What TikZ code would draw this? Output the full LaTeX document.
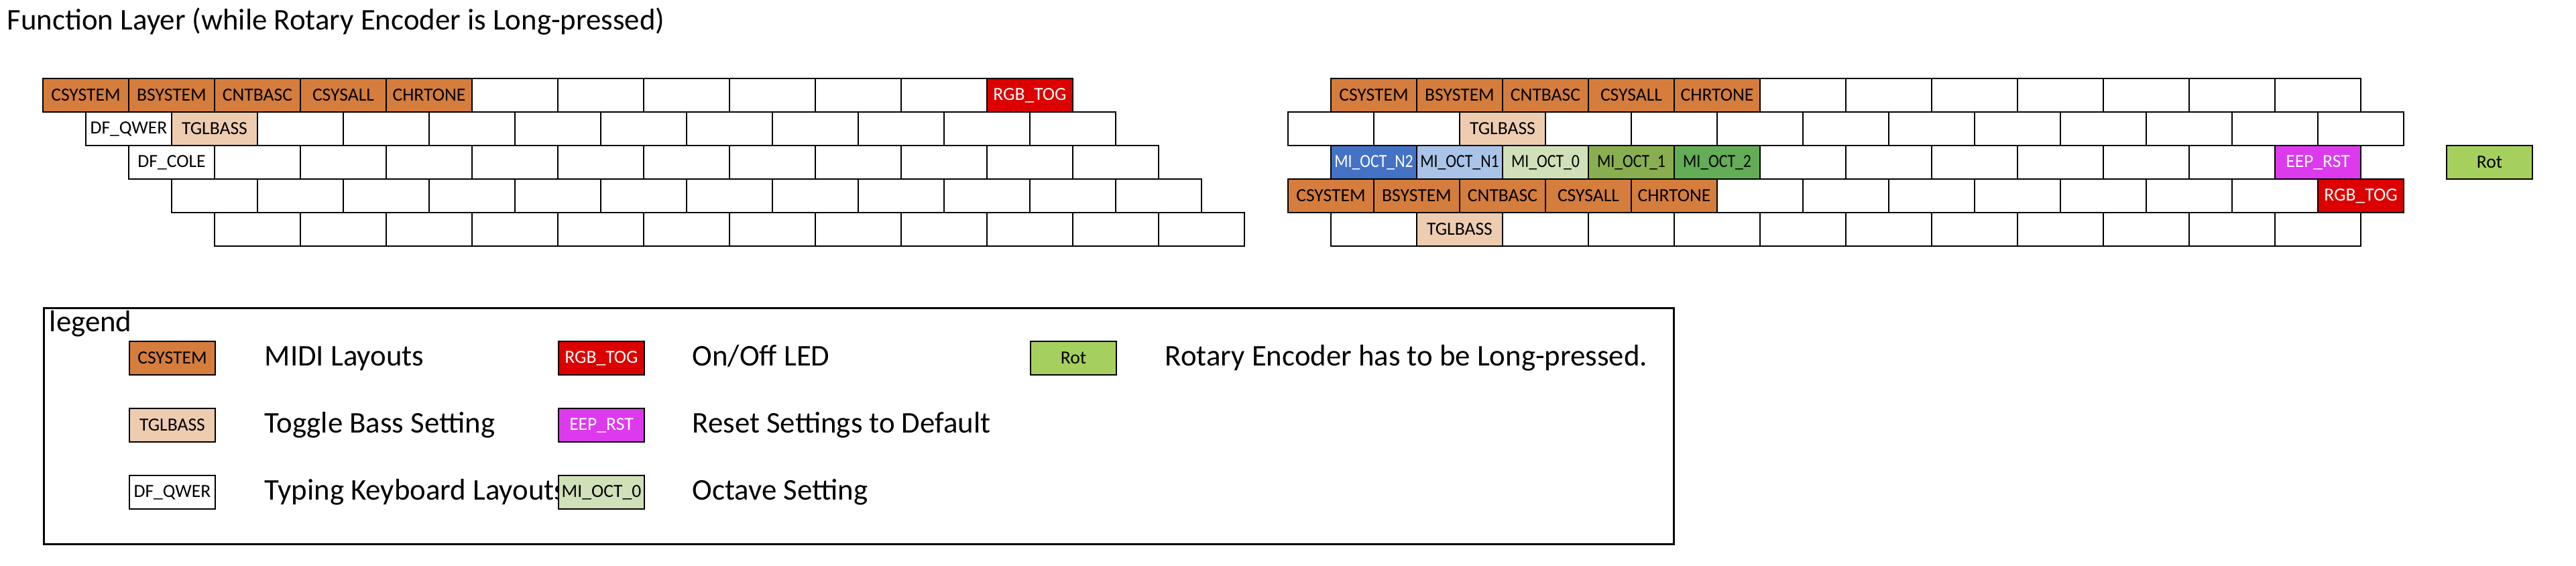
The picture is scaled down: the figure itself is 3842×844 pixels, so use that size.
\documentclass[tikz,border=0pt]{standalone}
\usepackage{fontspec}
\setmainfont{Carlito}
\definecolor{cOr}{HTML}{D57D3C}
\definecolor{cTg}{HTML}{EDCCB0}
\definecolor{cRd}{HTML}{DC0000}
\definecolor{cMg}{HTML}{DD3AEE}
\definecolor{cBa}{HTML}{4472C4}
\definecolor{cBb}{HTML}{A9C4E8}
\definecolor{cGa}{HTML}{D0E0B8}
\definecolor{cGb}{HTML}{89AE50}
\definecolor{cGc}{HTML}{62AD55}
\definecolor{cRot}{HTML}{A6D05E}
\newcommand\kbrow[4]{%
  \foreach \ks/\kl [count=\ki from 0] in {#4}{%
    \node[key,\ks] (#1-\ki) at ({#2+64+128*\ki},{#3+25}) {\kl};}}
\newcommand\nar[1]{\scalebox{0.86}[1]{#1}}
\begin{document}
\begin{tikzpicture}[x=0.25pt,y=-0.25pt,
  key/.style={draw=black, line width=0.375pt, minimum width=32pt, minimum height=12.5pt,
    inner sep=0pt, outer sep=0pt, font=\fontsize{6.9}{8}\selectfont, text=black},
  bl/.style={fill=white},
  mo/.style={fill=cOr},
  tg/.style={fill=cTg},
  rd/.style={fill=cRd, text=white},
  mg/.style={fill=cMg, text=white},
  ba/.style={fill=cBa, text=white},
  bb/.style={fill=cBb},
  ga/.style={fill=cGa},
  gb/.style={fill=cGb},
  gc/.style={fill=cGc},
  rt/.style={fill=cRot, line width=0.5pt},
  rowline/.style={draw=black, line width=0.5pt},
  sw/.style={key, line width=0.5pt},
  lt/.style={anchor=base west, inner sep=0pt, font=\fontsize{11.2}{13}\selectfont},
  ttl/.style={anchor=base west, inner sep=0pt, font=\fontsize{11.2}{13}\selectfont},
]
\useasboundingbox (0,0) rectangle (3842,844);

\node[ttl] (title) at (10,45) {Function Layer (while Rotary Encoder is Long-pressed)};

% left half
\kbrow{La}{64}{117}{mo/CSYSTEM,mo/BSYSTEM,mo/CNTBASC,mo/CSYSALL,mo/CHRTONE,bl/{},bl/{},bl/{},bl/{},bl/{},bl/{},rd/RGB\_TOG}
\kbrow{Lb}{128}{167}{bl/DF\_QWER,tg/TGLBASS,bl/{},bl/{},bl/{},bl/{},bl/{},bl/{},bl/{},bl/{},bl/{},bl/{}}
\kbrow{Lc}{192}{217}{bl/DF\_COLE,bl/{},bl/{},bl/{},bl/{},bl/{},bl/{},bl/{},bl/{},bl/{},bl/{},bl/{}}
\kbrow{Ld}{256}{267}{bl/{},bl/{},bl/{},bl/{},bl/{},bl/{},bl/{},bl/{},bl/{},bl/{},bl/{},bl/{}}
\kbrow{Le}{320}{317}{bl/{},bl/{},bl/{},bl/{},bl/{},bl/{},bl/{},bl/{},bl/{},bl/{},bl/{},bl/{}}
\draw[rowline] (La-0.north west) rectangle (La-11.south east);
\draw[rowline] (Lb-0.north west) rectangle (Lb-11.south east);
\draw[rowline] (Lc-0.north west) rectangle (Lc-11.south east);
\draw[rowline] (Ld-0.north west) rectangle (Ld-11.south east);
\draw[rowline] (Le-0.north west) rectangle (Le-11.south east);

% right half
\kbrow{Ra}{1985}{117}{mo/CSYSTEM,mo/BSYSTEM,mo/CNTBASC,mo/CSYSALL,mo/CHRTONE,bl/{},bl/{},bl/{},bl/{},bl/{},bl/{},bl/{}}
\kbrow{Rb}{1921}{167}{bl/{},bl/{},tg/TGLBASS,bl/{},bl/{},bl/{},bl/{},bl/{},bl/{},bl/{},bl/{},bl/{},bl/{}}
\kbrow{Rc}{1985}{217}{ba/\nar{MI\_OCT\_N2},bb/\nar{MI\_OCT\_N1},ga/\nar{MI\_OCT\_0},gb/\nar{MI\_OCT\_1},gc/\nar{MI\_OCT\_2},bl/{},bl/{},bl/{},bl/{},bl/{},bl/{},mg/EEP\_RST}
\kbrow{Rd}{1921}{267}{mo/CSYSTEM,mo/BSYSTEM,mo/CNTBASC,mo/CSYSALL,mo/CHRTONE,bl/{},bl/{},bl/{},bl/{},bl/{},bl/{},bl/{},rd/RGB\_TOG}
\kbrow{Re}{1985}{317}{bl/{},tg/TGLBASS,bl/{},bl/{},bl/{},bl/{},bl/{},bl/{},bl/{},bl/{},bl/{},bl/{}}
\draw[rowline] (Ra-0.north west) rectangle (Ra-11.south east);
\draw[rowline] (Rb-0.north west) rectangle (Rb-12.south east);
\draw[rowline] (Rc-0.north west) rectangle (Rc-11.south east);
\draw[rowline] (Rd-0.north west) rectangle (Rd-12.south east);
\draw[rowline] (Re-0.north west) rectangle (Re-11.south east);

\node[key,rt] (rot) at (3713,242) {Rot};

% legend
\node[draw=black, line width=0.75pt, minimum width=607.75pt, minimum height=88pt,
  inner sep=0pt, anchor=north west] (legendbox) at (64,458) {};
\node[lt] (legendtitle) at (73,495) {legend};

\node[lt] (tx-cs) at (394,545) {MIDI Layouts};
\node[sw,mo] (sw-cs) at (257,534) {CSYSTEM};
\node[lt] (tx-tg) at (394,645) {Toggle Bass Setting};
\node[sw,tg] (sw-tg) at (257,634) {TGLBASS};
\node[lt] (tx-df) at (394,745) {Typing Keyboard Layouts};
\node[sw,bl] (sw-df) at (257,734) {DF\_QWER};

\node[lt] (tx-rgb) at (1032,545) {On/Off LED};
\node[sw,rd] (sw-rgb) at (897,534) {RGB\_TOG};
\node[lt] (tx-eep) at (1032,645) {Reset Settings to Default};
\node[sw,mg] (sw-eep) at (897,634) {EEP\_RST};
\node[lt] (tx-oct) at (1032,745) {Octave Setting};
\node[sw,ga] (sw-oct) at (897,734) {MI\_OCT\_0};

\node[lt] (tx-rot) at (1737,545) {Rotary Encoder has to be Long-pressed.};
\node[sw,rt] (sw-rot) at (1601,534) {Rot};
\end{tikzpicture}
\end{document}
